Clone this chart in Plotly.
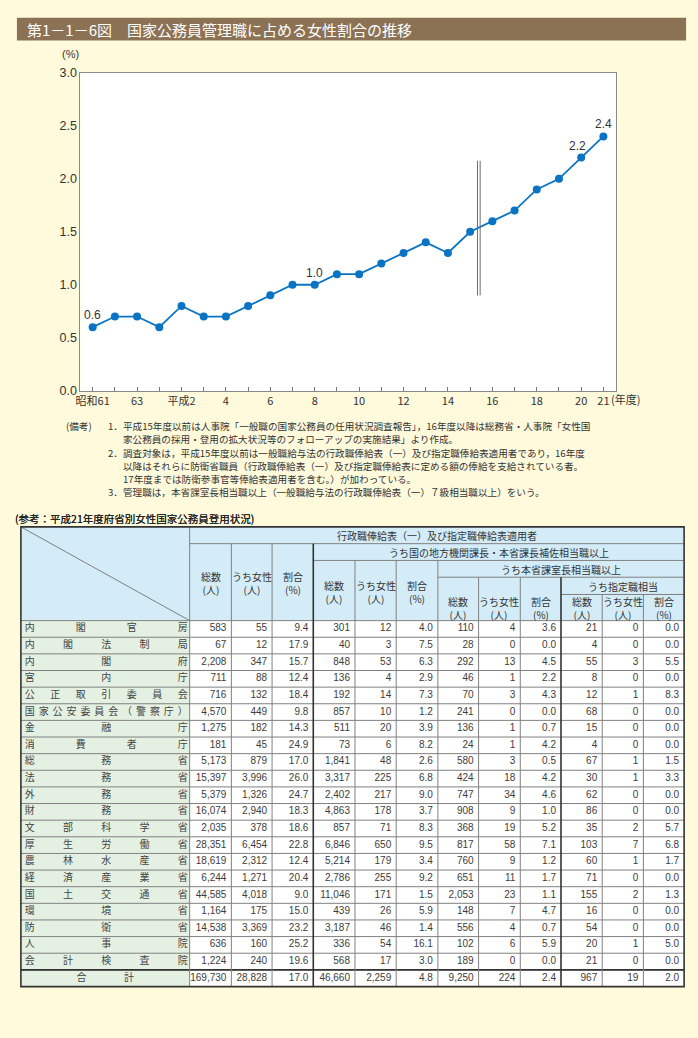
import plotly.graph_objects as go

W, H = 698, 1038

# ---------------- chart data ----------------
year_ticks = ["昭和61", "", "63", "", "平成2", "", "4", "", "6", "", "8", "", "10", "",
              "12", "", "14", "", "16", "", "18", "", "20", "21"]
female_ratio = [0.6, 0.7, 0.7, 0.6, 0.8, 0.7, 0.7, 0.8, 0.9, 1.0, 1.0, 1.1, 1.1, 1.2,
                1.3, 1.4, 1.3, 1.5, 1.6, 1.7, 1.9, 2.0, 2.2, 2.4]
labeled_points = [0, 10, 22, 23]
y_ticks = [0.0, 0.5, 1.0, 1.5, 2.0, 2.5, 3.0]
break_x = [17.33, 17.45]      # survey change between 平成15 and 16
break_span = [0.9, 2.17]

title = "第1－1－6図　国家公務員管理職に占める女性割合の推移"
notes = [
    ("(備考)", "1．", "平成15年度以前は人事院「一般職の国家公務員の任用状況調査報告」，16年度以降は総務省・人事院「女性国"),
    ("", "", "家公務員の採用・登用の拡大状況等のフォローアップの実施結果」より作成。"),
    ("", "2．", "調査対象は，平成15年度以前は一般職給与法の行政職俸給表（一）及び指定職俸給表適用者であり，16年度"),
    ("", "", "以降はそれらに防衛省職員（行政職俸給表（一）及び指定職俸給表に定める額の俸給を支給されている者。"),
    ("", "", "17年度までは防衛参事官等俸給表適用者を含む。）が加わっている。"),
    ("", "3．", "管理職は，本省課室長相当職以上（一般職給与法の行政職俸給表（一）７級相当職以上）をいう。"),
]

# ---------------- table data ----------------
table_title = "(参考：平成21年度府省別女性国家公務員登用状況)"
ministries = ["内閣官房", "内閣法制局", "内閣府", "宮内庁", "公正取引委員会", "国家公安委員会（警察庁）",
              "金融庁", "消費者庁", "総務省", "法務省", "外務省", "財務省", "文部科学省", "厚生労働省",
              "農林水産省", "経済産業省", "国土交通省", "環境省", "防衛省", "人事院", "会計検査院"]
total_label = "合計"
g1_total = [583, 67, 2208, 711, 716, 4570, 1275, 181, 5173, 15397, 5379, 16074, 2035, 28351,
            18619, 6244, 44585, 1164, 14538, 636, 1224, 169730]
g1_women = [55, 12, 347, 88, 132, 449, 182, 45, 879, 3996, 1326, 2940, 378, 6454, 2312, 1271,
            4018, 175, 3369, 160, 240, 28828]
g1_ratio = [9.4, 17.9, 15.7, 12.4, 18.4, 9.8, 14.3, 24.9, 17.0, 26.0, 24.7, 18.3, 18.6, 22.8,
            12.4, 20.4, 9.0, 15.0, 23.2, 25.2, 19.6, 17.0]
g2_total = [301, 40, 848, 136, 192, 857, 511, 73, 1841, 3317, 2402, 4863, 857, 6846, 5214, 2786,
            11046, 439, 3187, 336, 568, 46660]
g2_women = [12, 3, 53, 4, 14, 10, 20, 6, 48, 225, 217, 178, 71, 650, 179, 255, 171, 26, 46, 54, 17, 2259]
g2_ratio = [4.0, 7.5, 6.3, 2.9, 7.3, 1.2, 3.9, 8.2, 2.6, 6.8, 9.0, 3.7, 8.3, 9.5, 3.4, 9.2, 1.5,
            5.9, 1.4, 16.1, 3.0, 4.8]
g3_total = [110, 28, 292, 46, 70, 241, 136, 24, 580, 424, 747, 908, 368, 817, 760, 651, 2053, 148,
            556, 102, 189, 9250]
g3_women = [4, 0, 13, 1, 3, 0, 1, 1, 3, 18, 34, 9, 19, 58, 9, 11, 23, 7, 4, 6, 0, 224]
g3_ratio = [3.6, 0.0, 4.5, 2.2, 4.3, 0.0, 0.7, 4.2, 0.5, 4.2, 4.6, 1.0, 5.2, 7.1, 1.2, 1.7, 1.1,
            4.7, 0.7, 5.9, 0.0, 2.4]
g4_total = [21, 4, 55, 8, 12, 68, 15, 4, 67, 30, 62, 86, 35, 103, 60, 71, 155, 16, 54, 20, 21, 967]
g4_women = [0, 0, 3, 0, 1, 0, 0, 0, 1, 1, 0, 0, 2, 7, 1, 0, 2, 0, 0, 1, 0, 19]
g4_ratio = [0.0, 0.0, 5.5, 0.0, 8.3, 0.0, 0.0, 0.0, 1.5, 3.3, 0.0, 0.0, 5.7, 6.8, 1.7, 0.0, 1.3,
            0.0, 0.0, 5.0, 0.0, 2.0]
group_titles = ["行政職俸給表（一）及び指定職俸給表適用者",
                "うち国の地方機関課長・本省課長補佐相当職以上",
                "うち本省課室長相当職以上",
                "うち指定職相当"]
col_heads = [("総数", "(人)"), ("うち女性", "(人)"), ("割合", "(%)")]

columns = [g1_total, g1_women, g1_ratio, g2_total, g2_women, g2_ratio,
           g3_total, g3_women, g3_ratio, g4_total, g4_women, g4_ratio]
is_ratio = [False, False, True] * 4

# ---------------- styling / geometry ----------------
BG = "#FFFADC"
BROWN = "#8C7254"
BLUE = "#0A74C4"
HEAD_FILL = "#D4ECF8"
NAME_FILL = "#E4F1E2"
TXT = "#333333"
THIN = "#808080"
THICK = "#333333"
JP = "Noto Sans CJK JP"
LAT = "Liberation Sans"

PL, PR, PT, PB = 76, 615, 66.7, 389

COLS = [16, 186, 228, 269, 310.5, 352.5, 394, 436, 477, 519, 560, 601.5, 643, 684]
T, A, B, C, D, HB = 527, 544, 561, 578, 595.5, 622
RH = (976 - HB) / 21
TOT_T = HB + RH * 21
BOT = TOT_T + 17

fig = go.Figure()

# ---- main line chart
fig.add_trace(go.Scatter(
    x=list(range(len(female_ratio))), y=female_ratio, mode="lines+markers",
    line=dict(color=BLUE, width=1.8), marker=dict(color=BLUE, size=8),
    hoverinfo="skip", showlegend=False, cliponaxis=False))

annotations = []
for i in labeled_points:
    annotations.append(dict(x=i, y=female_ratio[i], xref="x", yref="y", text=f"{female_ratio[i]:.1f}",
                            showarrow=False, yshift=12, xshift=-4 if i == 22 else 0,
                            font=dict(family=LAT, size=12, color=TXT)))

shapes = []
# white plot area
shapes.append(dict(type="rect", xref="x domain", yref="y domain", x0=0, x1=1, y0=0, y1=1,
                   fillcolor="white", line=dict(width=0), layer="below"))
for bx in break_x:
    shapes.append(dict(type="line", xref="x", yref="y", x0=bx, x1=bx, y0=break_span[0], y1=break_span[1],
                       line=dict(color="#6e6e6e", width=1)))


def pline(x0, y0, x1, y1, color=THIN, width=1):
    shapes.append(dict(type="line", xref="x2", yref="y2", x0=x0, y0=y0, x1=x1, y1=y1,
                       line=dict(color=color, width=width), layer="above"))


def prect(x0, y0, x1, y1, fill):
    shapes.append(dict(type="rect", xref="x2", yref="y2", x0=x0, y0=y0, x1=x1, y1=y1,
                       fillcolor=fill, line=dict(width=0), layer="below"))


def ptext(x, y, text, size=10, color=TXT, family=JP, anchor="left", yanchor="middle"):
    annotations.append(dict(x=x, y=y, xref="x2", yref="y2", text=text, showarrow=False,
                            xanchor=anchor, yanchor=yanchor, borderpad=0,
                            font=dict(family=family, size=size, color=color)))


# ---- title bar
prect(12, 11, 686, 34, BROWN)
ptext(21, 22.5, title, size=15, color="white")

# ---- axis extras
ptext(66, 48, "(%)", size=11, family=LAT, anchor="center")
ptext(609, 397, "(年度)", size=11)

# ---- notes
note_y0, note_dy = 425, 13.4
for k, (lead, num, body) in enumerate(notes):
    y = note_y0 + k * note_dy
    if lead:
        ptext(60, y, lead, size=9.6)
    if num:
        ptext(103, y, num, size=9.6)
    ptext(118, y, body, size=9.6)

# ---- table
ptext(9, 518, table_title, size=10.5, color="#222222")
ptext(9.4, 518, table_title, size=10.5, color="#222222")

prect(COLS[0], T, COLS[-1], HB, HEAD_FILL)
prect(COLS[0], HB, COLS[1], BOT, NAME_FILL)
prect(COLS[1], HB, COLS[-1], BOT, "white")

# header horizontal lines
pline(COLS[1], A, COLS[-1], A)
pline(COLS[4], B, COLS[-1], B)
pline(COLS[7], C, COLS[-1], C)
pline(COLS[10], D, COLS[-1], D)
# row lines
for r in range(22):
    y = HB + r * RH
    pline(COLS[0], y, COLS[-1], y)
pline(COLS[0], TOT_T, COLS[-1], TOT_T, THICK, 1.6)
# vertical lines
v_start = {1: T, 2: A, 3: A, 4: A, 5: B, 6: B, 7: B, 8: C, 9: C, 10: C, 11: D, 12: D}
for ci, ys in v_start.items():
    thick = ci in (4, 10)
    pline(COLS[ci], ys, COLS[ci], BOT, THICK if thick else THIN, 1.6 if thick else 1)
# diagonal
pline(COLS[0], T, COLS[1], HB, THIN, 1)
# outer border
shapes.append(dict(type="rect", xref="x2", yref="y2", x0=COLS[0], x1=COLS[-1], y0=T, y1=BOT,
                   line=dict(color=THICK, width=1.6), layer="above"))

# header texts
ptext((COLS[1] + COLS[-1]) / 2, (T + A) / 2 + 0.5, group_titles[0], anchor="center")
ptext((COLS[4] + COLS[-1]) / 2, (A + B) / 2 + 0.5, group_titles[1], anchor="center")
ptext((COLS[7] + COLS[-1]) / 2, (B + C) / 2 + 0.5, group_titles[2], anchor="center")
ptext((COLS[10] + COLS[-1]) / 2, (C + D) / 2 + 0.5, group_titles[3], anchor="center")
head_text_y = [584, 593, 609, 609.5]
for g in range(4):
    for k, (l1, l2) in enumerate(col_heads):
        ci = 1 + g * 3 + k
        cx = (COLS[ci] + COLS[ci + 1]) / 2
        ptext(cx, head_text_y[g], f"{l1}<br>{l2}", anchor="center")

# ministry names (characters spread across the cell)
name_x, name_y, name_t = [], [], []
for r, nm in enumerate(ministries):
    yc = HB + RH * (r + 0.5)
    n = len(nm)
    x0, x1 = 25, 179
    for k, ch in enumerate(nm):
        name_x.append(x0 + k * (x1 - x0) / (n - 1))
        name_y.append(yc)
        name_t.append(ch)
tot_y = (TOT_T + BOT) / 2
for k, ch in enumerate(total_label):
    name_x.append(77 + k * 48)
    name_y.append(tot_y)
    name_t.append(ch)
fig.add_trace(go.Scatter(x=name_x, y=name_y, text=name_t, mode="text", textposition="middle center",
                         textfont=dict(family=JP, size=10, color="#444444"),
                         xaxis="x2", yaxis="y2", hoverinfo="skip", showlegend=False, cliponaxis=False))

# numbers
num_x, num_y, num_t = [], [], []
for j, col in enumerate(columns):
    xr = COLS[j + 2] - 5
    for r, v in enumerate(col):
        yc = HB + RH * (r + 0.5) if r < 21 else tot_y
        num_x.append(xr)
        num_y.append(yc)
        num_t.append(f"{v:.1f}" if is_ratio[j] else f"{v:,}")
fig.add_trace(go.Scatter(x=num_x, y=num_y, text=num_t, mode="text", textposition="middle left",
                         textfont=dict(family=LAT, size=10, color="#3c3c3c"),
                         xaxis="x2", yaxis="y2", hoverinfo="skip", showlegend=False, cliponaxis=False))

fig.update_layout(
    width=W, height=H, margin=dict(l=0, r=0, t=0, b=0),
    paper_bgcolor=BG, plot_bgcolor="rgba(0,0,0,0)",
    xaxis=dict(domain=[PL / W, PR / W], range=[-0.55, 23.55], tickvals=list(range(len(year_ticks))),
               ticktext=year_ticks, ticks="inside", ticklen=4, tickcolor="#777777",
               showline=True, linecolor="#8a8a8a", linewidth=1, mirror=True,
               showgrid=False, zeroline=False, fixedrange=True,
               tickfont=dict(family=JP, size=11, color=TXT)),
    yaxis=dict(domain=[1 - PB / H, 1 - PT / H], range=[0, 3], tickvals=y_ticks,
               ticktext=[f"{v:.1f}" for v in y_ticks], ticks="",
               showline=True, linecolor="#8a8a8a", linewidth=1, mirror=True,
               showgrid=False, zeroline=False, fixedrange=True,
               tickfont=dict(family=LAT, size=12.5, color=TXT)),
    xaxis2=dict(domain=[0, 1], range=[0, W], visible=False, fixedrange=True, anchor="y2"),
    yaxis2=dict(domain=[0, 1], range=[H, 0], visible=False, fixedrange=True, anchor="x2"),
    shapes=shapes, annotations=annotations,
)

fig.write_html("out.html", config={"displayModeBar": False},
               post_script="document.body.style.margin='0';document.body.style.overflow='hidden';")
